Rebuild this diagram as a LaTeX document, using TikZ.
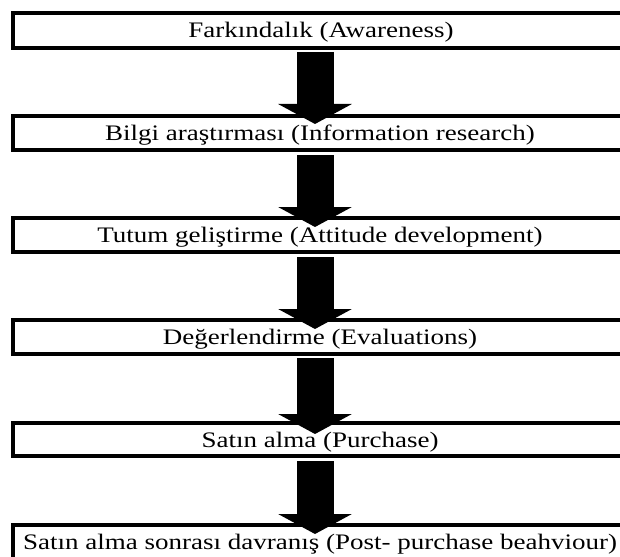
\documentclass[tikz,border=0pt]{standalone}
\usepackage{fontspec}
\setmainfont{Liberation Serif}[FakeStretch=1.22]
\usetikzlibrary{arrows.meta}
\begin{document}
\begin{tikzpicture}[x=0.75pt,y=-0.75pt,
  stage/.style={inner sep=0pt, anchor=base, font=\fontsize{16.6}{20}\selectfont},
  frame/.style={line width=3pt, line join=miter},
  flow/.style={line width=27.75pt, -{Triangle[length=15pt,width=54.75pt]}}]
\useasboundingbox (0,0) rectangle (620,556);
\clip (0,0) rectangle (620,556);
% frames
\draw[frame] (640,13) -- (13,13) -- (13,48) -- (640,48);
\draw[frame] (640,116) -- (13,116) -- (13,150) -- (640,150);
\draw[frame] (640,218) -- (13,218) -- (13,252) -- (640,252);
\draw[frame] (640,320) -- (13,320) -- (13,354) -- (640,354);
\draw[frame] (640,423) -- (13,423) -- (13,456) -- (640,456);
\draw[frame] (640,525) -- (13,525) -- (13,580) -- (640,580);
% texts
\node[stage] (s1) at (321,38) {Farkındalık (Awareness)};
\node[stage] (s2) at (320,140.5) {Bilgi araştırması (Information research)};
\node[stage] (s3) at (320,242.5) {Tutum geliştirme (Attitude development)};
\node[stage] (s4) at (320,344.5) {Değerlendirme (Evaluations)};
\node[stage] (s5) at (320,447.5) {Satın alma (Purchase)};
\node[stage] (s6) at (320,549) {Satın alma sonrası davranış (Post- purchase beahviour)};
% connectors
\coordinate (a1s) at (315,52);  \coordinate (a1e) at (315,124);
\coordinate (a2s) at (315,155); \coordinate (a2e) at (315,227);
\coordinate (a3s) at (315,257); \coordinate (a3e) at (315,329);
\coordinate (a4s) at (315,358); \coordinate (a4e) at (315,434);
\coordinate (a5s) at (315,461); \coordinate (a5e) at (315,534);
\draw[flow] (a1s) -- (a1e);
\draw[flow] (a2s) -- (a2e);
\draw[flow] (a3s) -- (a3e);
\draw[flow] (a4s) -- (a4e);
\draw[flow] (a5s) -- (a5e);
\end{tikzpicture}
\end{document}
